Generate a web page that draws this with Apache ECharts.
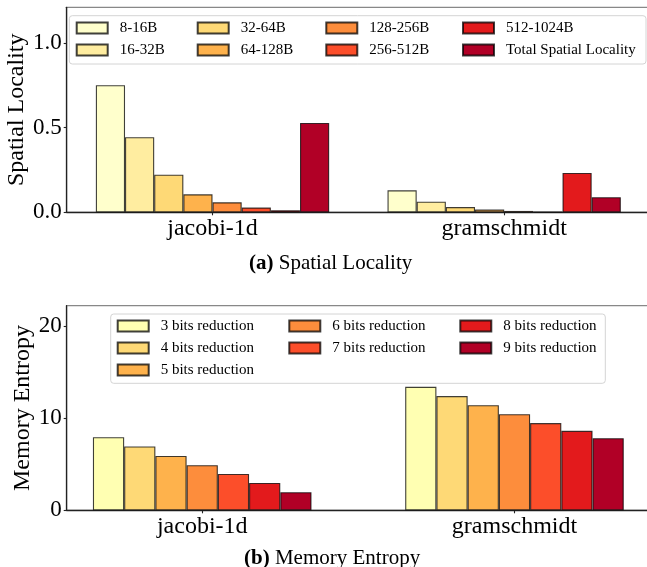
<!DOCTYPE html>
<html>
<head>
<meta charset="utf-8">
<script src="https://cdn.jsdelivr.net/npm/echarts@6/dist/echarts.min.js"></script>
<style>html,body{margin:0;padding:0;background:#fff;}#c{width:647px;height:567px;}</style>
</head>
<body>
<div id="c"></div>
<script>
// ---- data ----
const categories = ['jacobi-1d', 'gramschmidt'];

const spatialNames = ['8-16B', '16-32B', '32-64B', '64-128B', '128-256B', '256-512B', '512-1024B', 'Total Spatial Locality'];
const spatial_8_16 = [0.750, 0.130];
const spatial_16_32 = [0.443, 0.063];
const spatial_32_64 = [0.222, 0.031];
const spatial_64_128 = [0.106, 0.016];
const spatial_128_256 = [0.059, 0.008];
const spatial_256_512 = [0.028, 0.003];
const spatial_512_1024 = [0.012, 0.232];
const spatial_total = [0.527, 0.089];
const spatialValues = [spatial_8_16, spatial_16_32, spatial_32_64, spatial_64_128, spatial_128_256, spatial_256_512, spatial_512_1024, spatial_total];

const entropyNames = ['3 bits reduction', '4 bits reduction', '5 bits reduction', '6 bits reduction', '7 bits reduction', '8 bits reduction', '9 bits reduction'];
const entropy3 = [7.93, 13.40];
const entropy4 = [6.92, 12.39];
const entropy5 = [5.90, 11.41];
const entropy6 = [4.90, 10.43];
const entropy7 = [3.95, 9.46];
const entropy8 = [2.97, 8.62];
const entropy9 = [1.96, 7.83];
const entropyValues = [entropy3, entropy4, entropy5, entropy6, entropy7, entropy8, entropy9];

const spatialTicks = [0, 0.5, 1.0];
const entropyTicks = [0, 10, 20];
const captionA = ['(a)', 'Spatial Locality'];
const captionB = ['(b)', 'Memory Entropy'];

// ---- styles ----
const spatialColors = ['#ffffcc', '#ffeda0', '#fed976', '#feb24c', '#fd8d3c', '#fc4e2a', '#e31a1c', '#b10026'];
const entropyColors = ['#ffffb2', '#fed976', '#feb24c', '#fd8d3c', '#fc4e2a', '#e31a1c', '#b10026'];
const SERIF = 'Liberation Serif, DejaVu Serif, serif';
const edge = 'rgba(0,0,0,0.75)';

const chart = echarts.init(document.getElementById('c'), null, {renderer: 'canvas'});

const series = [];
spatialNames.forEach((n, i) => {
  series.push({
    name: n, type: 'bar', xAxisIndex: 0, yAxisIndex: 0,
    data: spatialValues[i],
    barGap: '0%', barCategoryGap: '20%',
    itemStyle: {color: spatialColors[i], borderColor: edge, borderWidth: 1.1},
    emphasis: {disabled: true}, z: 2
  });
});
entropyNames.forEach((n, i) => {
  series.push({
    name: n, type: 'bar', xAxisIndex: 1, yAxisIndex: 1,
    data: entropyValues[i].map((v, k) => [k, v]),
    barGap: '0%', barCategoryGap: '30%',
    itemStyle: {color: entropyColors[i], borderColor: edge, borderWidth: 1.1},
    emphasis: {disabled: true}, z: 2
  });
});

function legendCol(names, left, top) {
  return {
    orient: 'vertical', left: left, top: top, padding: 0,
    itemWidth: 31, itemHeight: 11, itemGap: 7,
    icon: 'rect', selectedMode: false,
    data: names,
    textStyle: {fontFamily: SERIF, fontSize: 15, color: '#000', lineHeight: 15, padding: [0, 0, 0, 7]}
  };
}
const topCols = [[0, 1], [2, 3], [4, 5], [6, 7]];
const topLefts = [75.7, 196.7, 325.3, 462];
const botCols = [[0, 1, 2], [3, 4], [5, 6]];
const botLefts = [116.7, 288.3, 459.3];
const legends = [];
topCols.forEach((c, i) => legends.push(legendCol(c.map(k => spatialNames[k]), topLefts[i], 20.5)));
botCols.forEach((c, i) => legends.push(legendCol(c.map(k => entropyNames[k]), botLefts[i], 318.5)));

const axisLineStyle = {color: '#222', width: 1.3};
const tickStyle = {show: true, length: 3, lineStyle: {color: '#222', width: 1.1}};

const option = {
  animation: false,
  backgroundColor: '#fff',
  title: [
    {text: '{b|' + captionA[0] + '} ' + captionA[1], left: 244, top: 248,
     textStyle: {fontFamily: SERIF, fontSize: 21, fontWeight: 'normal', color: '#000',
       rich: {b: {fontFamily: SERIF, fontSize: 21, fontWeight: 'bold', color: '#000'}}}},
    {text: '{b|' + captionB[0] + '} ' + captionB[1], left: 239, top: 543,
     textStyle: {fontFamily: SERIF, fontSize: 21, fontWeight: 'normal', color: '#000',
       rich: {b: {fontFamily: SERIF, fontSize: 21, fontWeight: 'bold', color: '#000'}}}}
  ],
  legend: legends,
  graphic: [
    {type: 'rect', z: 3, shape: {x: 69.3, y: 15.7, width: 576.7, height: 48.3, r: 3},
     style: {fill: 'rgba(255,255,255,0.85)', stroke: '#d4d4d4', lineWidth: 1}},
    {type: 'rect', z: 3, shape: {x: 110.7, y: 314, width: 494.6, height: 69.3, r: 3},
     style: {fill: 'rgba(255,255,255,0.85)', stroke: '#d4d4d4', lineWidth: 1}}
  ],
  grid: [
    {left: 66.7, top: 7.3, right: -3, height: 205, show: true, borderColor: '#888', borderWidth: 1.2,
     containLabel: false, outerBoundsMode: 'none'},
    {left: 66.7, top: 305.7, right: -3, height: 204.6, show: true, borderColor: '#888', borderWidth: 1.2,
     containLabel: false, outerBoundsMode: 'none'}
  ],
  xAxis: [
    {type: 'category', gridIndex: 0, data: categories,
     axisLine: {onZero: false, lineStyle: axisLineStyle},
     axisTick: Object.assign({alignWithLabel: true}, tickStyle),
     axisLabel: {fontFamily: SERIF, fontSize: 24, color: '#000', margin: 4},
     splitLine: {show: false}},
    {type: 'value', gridIndex: 1, min: -0.434, max: 1.434,
     axisLine: {onZero: false, lineStyle: axisLineStyle},
     axisTick: Object.assign({customValues: [0, 1]}, tickStyle),
     axisLabel: {customValues: [0, 1], formatter: v => categories[Math.round(v)] || '',
       fontFamily: SERIF, fontSize: 24, color: '#000', margin: 4},
     splitLine: {show: false}}
  ],
  yAxis: [
    {type: 'value', gridIndex: 0, min: 0, max: 1.21,
     name: 'Spatial Locality', nameLocation: 'middle', nameGap: 38, nameMoveOverlap: false,
     nameTextStyle: {fontFamily: SERIF, fontSize: 24, color: '#000'},
     axisLine: {show: true, onZero: false, lineStyle: axisLineStyle},
     axisTick: Object.assign({customValues: spatialTicks}, tickStyle),
     axisLabel: {customValues: spatialTicks, formatter: v => v.toFixed(1),
       fontFamily: SERIF, fontSize: 23, color: '#000', margin: 5},
     splitLine: {show: false}},
    {type: 'value', gridIndex: 1, min: 0, max: 22.2,
     name: 'Memory Entropy', nameLocation: 'middle', nameGap: 32, nameMoveOverlap: false,
     nameTextStyle: {fontFamily: SERIF, fontSize: 24, color: '#000'},
     axisLine: {show: true, onZero: false, lineStyle: axisLineStyle},
     axisTick: Object.assign({customValues: entropyTicks}, tickStyle),
     axisLabel: {customValues: entropyTicks, formatter: v => String(v),
       fontFamily: SERIF, fontSize: 23, color: '#000', margin: 5},
     splitLine: {show: false}}
  ],
  series: series
};
chart.setOption(option);
</script>
</body>
</html>
